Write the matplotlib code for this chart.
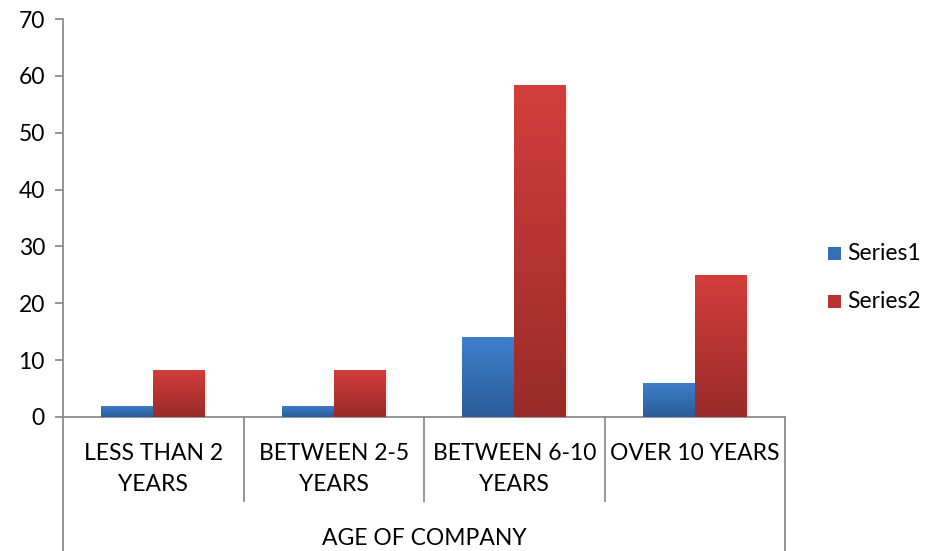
import numpy as np
import matplotlib
matplotlib.use("Agg")
import matplotlib.pyplot as plt
from matplotlib.patches import Rectangle, Wedge
from matplotlib.colors import LinearSegmentedColormap

plt.rcParams['font.family'] = ['Lato', 'DejaVu Sans']

categories = ["LESS THAN 2\nYEARS", "BETWEEN 2-5\nYEARS", "BETWEEN 6-10\nYEARS", "OVER 10 YEARS"]
series1 = [2, 2, 14, 6]
series2 = [8.33, 8.33, 58.33, 25]
series_names = ["Series1", "Series2"]
group_label = "AGE OF COMPANY"

blue = LinearSegmentedColormap.from_list("b", ["#2b5c98", "#3e7fcc"])
red = LinearSegmentedColormap.from_list("r", ["#982b29", "#d33e3b"])
grey = "#8c8c8c"
fs = 16.5

fig = plt.figure(figsize=(9.31, 5.51), dpi=100)
ax = fig.add_axes([0.0677, 0.2432, 0.7755, 0.7223])

x = np.arange(len(categories)) + 0.5
w = 0.288
grad = np.linspace(0, 1, 256).reshape(-1, 1)


def gradient_bars(xs, vals, cmap):
    bars = ax.bar(xs, vals, width=w, color=cmap(0.5), linewidth=0, zorder=2)
    for b in bars:
        # soft shadow on the right side
        ax.add_patch(Rectangle((b.get_x() + 0.012, 0), b.get_width(), b.get_height() - 0.4,
                               color="#000000", alpha=0.07, lw=0, zorder=1))
        im = ax.imshow(grad, cmap=cmap, aspect="auto", origin="lower",
                       extent=[b.get_x(), b.get_x() + b.get_width(), 0, b.get_height()],
                       zorder=3)
        im.set_clip_path(b)
    return bars


gradient_bars(x - w / 2, series1, blue)
gradient_bars(x + w / 2, series2, red)

ax.set_xlim(0, 4)
ax.set_ylim(0, 70)
ax.set_yticks(range(0, 71, 10))
ax.set_xticks([])
ax.tick_params(axis="y", direction="out", length=6, width=1.3, color=grey,
               labelsize=fs, pad=7)
for s in ["top", "right"]:
    ax.spines[s].set_visible(False)
for s in ["left", "bottom"]:
    ax.spines[s].set_color(grey)
    ax.spines[s].set_linewidth(1.3)

# multi-level category axis
lower = -0.21
for xv in [1, 2, 3]:
    ax.plot([xv, xv], [0, lower], transform=ax.get_xaxis_transform(),
            color=grey, lw=1.3, clip_on=False)
for xv in [0, 4]:
    ax.plot([xv, xv], [0, -0.4], transform=ax.get_xaxis_transform(),
            color=grey, lw=1.3, clip_on=False)
for xv, lab in zip(x, categories):
    ax.text(xv, -0.066, lab, transform=ax.get_xaxis_transform(), ha="center",
            va="top", fontsize=fs, linespacing=1.6)
ax.text(2, -0.306, group_label, transform=ax.get_xaxis_transform(), ha="center",
        va="center", fontsize=fs)

# legend
for i, (name, cmap) in enumerate(zip(series_names, [blue, red])):
    yc = 1 - 254 / 551 - i * 48 / 551
    fig.patches.append(Rectangle((828 / 931, yc - 6 / 551), 13 / 931, 13 / 551,
                                 transform=fig.transFigure, color=cmap(0.55), lw=0))
    fig.text(847 / 931, yc, name, fontsize=fs, va="center", ha="left")

# faint logo watermark at the bottom
fig.patches.append(Wedge((545 / 931, -120 / 551), 0.16, 20, 160,
                         transform=fig.transFigure, color="#f3c8c8", alpha=0.45, lw=0))
fig.patches.append(Wedge((545 / 931, -120 / 551), 0.175, 20, 160, width=0.01,
                         transform=fig.transFigure, color="#c8c8e6", alpha=0.45, lw=0))

fig.savefig("out.png", dpi=100, facecolor="white")
